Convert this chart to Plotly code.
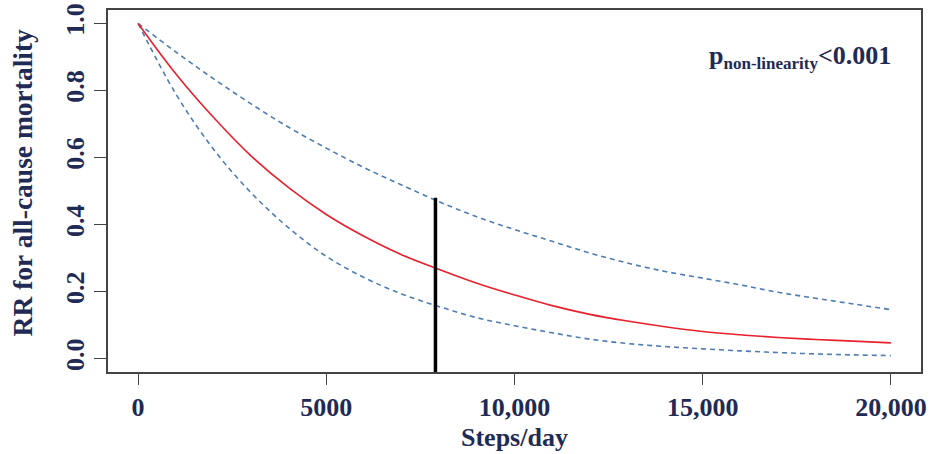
import plotly.graph_objects as go

# Data
steps = [0, 1000, 2000, 3000, 4000, 5000, 6000, 7000, 8000, 9000, 10000,
         11000, 12000, 13000, 14000, 15000, 16000, 17000, 18000, 19000, 20000]
rr = [1.00, 0.85, 0.72, 0.605, 0.51, 0.43, 0.365, 0.31, 0.266, 0.225, 0.190,
      0.158, 0.132, 0.112, 0.095, 0.081, 0.071, 0.063, 0.057, 0.052, 0.047]
rr_upper = [1.00, 0.915, 0.835, 0.76, 0.69, 0.628, 0.57, 0.518, 0.468, 0.423, 0.385,
            0.35, 0.315, 0.285, 0.26, 0.24, 0.22, 0.198, 0.18, 0.163, 0.146]
rr_lower = [1.00, 0.79, 0.625, 0.495, 0.39, 0.305, 0.242, 0.193, 0.155, 0.122, 0.098,
            0.077, 0.058, 0.045, 0.036, 0.029, 0.023, 0.018, 0.014, 0.011, 0.009]
cutoff_x = [7900, 7900]
cutoff_y = [-0.04, 0.48]

x_tickvals = [0, 5000, 10000, 15000, 20000]
x_ticktext = ["0", "5000", "10,000", "15,000", "20,000"]
y_tickvals = [0.0, 0.2, 0.4, 0.6, 0.8, 1.0]
y_ticktext = ["0.0", "0.2", "0.4", "0.6", "0.8", "1.0"]

x_title = "Steps/day"
y_title = "RR for all-cause mortality"
p_label = "p<sub><span style='font-size:17px'>non-linearity</span></sub><0.001"

navy = "#1f2a55"
font_family = "Liberation Serif"
bold_font = dict(family=font_family, color=navy, size=26, weight="bold")

fig = go.Figure()
fig.add_trace(go.Scatter(x=steps, y=rr_upper, mode="lines", line_shape="spline",
                         line=dict(color="#4f7cb3", width=1.6, dash="5px,4px")))
fig.add_trace(go.Scatter(x=steps, y=rr_lower, mode="lines", line_shape="spline",
                         line=dict(color="#4f7cb3", width=1.6, dash="5px,4px")))
fig.add_trace(go.Scatter(x=steps, y=rr, mode="lines", line_shape="spline",
                         line=dict(color="#e8212e", width=1.6)))
fig.add_trace(go.Scatter(x=cutoff_x, y=cutoff_y, mode="lines",
                         line=dict(color="black", width=3.5)))

fig.update_layout(
    width=931, height=454,
    margin=dict(l=108, r=10, t=10, b=82),
    paper_bgcolor="white", plot_bgcolor="white",
    showlegend=False,
    font=bold_font,
    annotations=[
        dict(xref="paper", yref="paper", x=0.965, y=0.87,
             xanchor="right", yanchor="middle", showarrow=False,
             text=p_label, font=bold_font),
        dict(xref="paper", yref="paper", x=0.5, y=-0.18,
             xanchor="center", yanchor="middle", showarrow=False,
             text=x_title, font=bold_font),
        dict(xref="paper", yref="paper", x=-0.104, y=0.525,
             xanchor="center", yanchor="middle", showarrow=False, textangle=-90,
             text=y_title, font=dict(family=font_family, color=navy, size=27.5, weight="bold")),
    ],
)
fig.update_xaxes(
    range=[-800, 20800], tickvals=x_tickvals, ticktext=x_ticktext,
    showline=True, mirror=True, linecolor="#444444", linewidth=1.5,
    ticks="outside", ticklen=11, tickcolor="#444444", tickwidth=1.2,
    showgrid=False, zeroline=False, automargin=False,
    tickfont=bold_font,
)
fig.update_yaxes(
    range=[-0.04, 1.04], tickvals=y_tickvals, ticktext=y_ticktext,
    showline=True, mirror=True, linecolor="#444444", linewidth=1.5,
    ticks="outside", ticklen=12, tickcolor="#444444", tickwidth=1.2,
    showgrid=False, zeroline=False, tickangle=-90, automargin=False,
    ticklabelstandoff=0, tickfont=bold_font,
)

fig.write_html("out.html", config={"displayModeBar": False},
               post_script="document.body.style.margin='0';")
